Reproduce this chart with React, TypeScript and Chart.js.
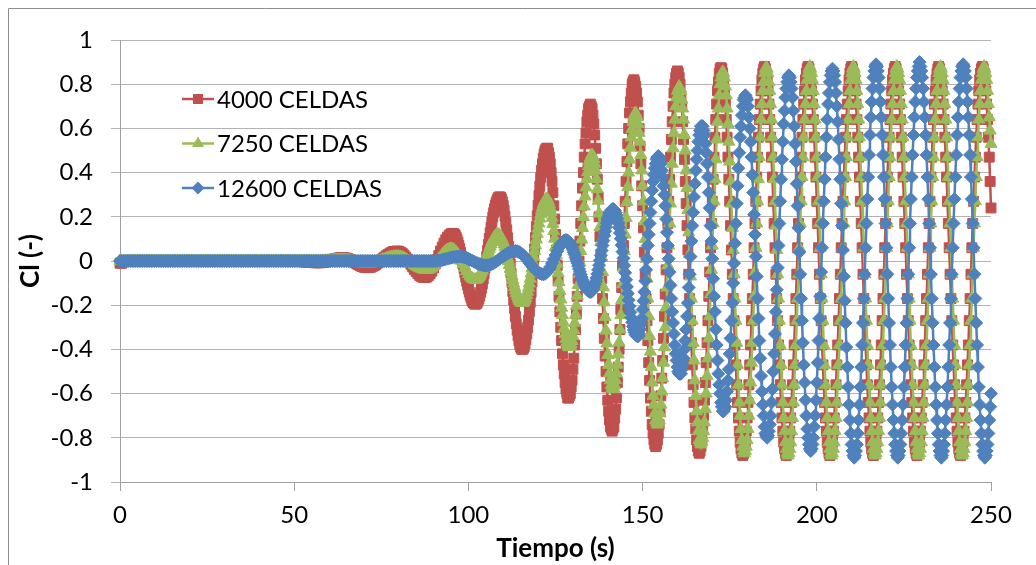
import React, { useEffect, useRef } from 'react';
import { Chart, registerables } from 'chart.js';

Chart.register(...registerables);

// ---------- data ----------
// Each series: part A sampled from SEG_A_START every SEG_A_STEP s,
// part B sampled from its own start (SEG_B_STARTS) every SEG_B_STEP s.
const SEG_A_START = 0;
const SEG_A_STEP = 0.5;
const SEG_B_STEP = 0.25;
const SEG_B_STARTS = [95.75, 102.25, 128.25];
const X_TICKS = [0, 50, 100, 150, 200, 250];
const Y_TICKS = [-1, -0.8, -0.6, -0.4, -0.2, 0, 0.2, 0.4, 0.6, 0.8, 1];
const SERIES_LABELS = ['4000 CELDAS', '7250 CELDAS', '12600 CELDAS'];
const SERIES_COLORS = ['#C0504D', '#9BBB59', '#4F81BD'];
const X_TITLE = 'Tiempo (s)';
const Y_TITLE = 'Cl (-)';

// 4000 cells, t = 0 .. 95.5 s
const CL_4000_A = [
  -0.01,-0.01,0,0,0, 0,0,0,0,0, 0,0,0,0,0, 0,0,0,0,0,
  0,0,0,0,0, 0,0,0,0,0, 0,0,0,0,0, 0,0,0,0,0,
  0,0,0,0,0, 0,0,0,0,0, 0,0,0,0,0, 0,0,0,0,0,
  0,0,0,0,0, 0,0,0,0,0, 0,0,0,0,0, 0,0,0,0,0,
  0,0,0,0,0, 0,0,0,0,0, 0,0,0,0,0, 0,0,0,0,0,
  0,0,-0.001,-0.001,-0.002,-0.003,-0.004,-0.005,-0.006,-0.006,-0.007,-0.007,-0.008,-0.008,-0.008,
  -0.008,-0.007,-0.006,-0.004,-0.002,0.001,0.004,0.006,0.009,0.011,0.013,0.014,0.015,0.015,
  0.014,0.013,0.01,0.007,0.002,-0.003,-0.008,-0.013,-0.017,-0.022,-0.025,-0.028,-0.029,-0.03,
  -0.029,-0.028,-0.024,-0.02,-0.015,-0.009,-0.003,0.004,0.011,0.018,0.024,0.03,0.035,0.039,0.043,0.044,0.045,
  0.044,0.04,0.035,0.027,0.018,0.008,-0.003,-0.015,-0.027,-0.038,-0.048,-0.057,-0.065,-0.07,-0.074,-0.075,
  -0.073,-0.067,-0.058,-0.046,-0.031,-0.013,0.006,0.025,0.045,0.063,0.081,0.096,0.108,0.117,0.123,0.125,
];
// 4000 cells, t = 95.75 .. 250 s
const CL_4000_B = [
  0.124,0.12,0.115,0.107,0.097,0.085,0.071,0.056,0.039,0.022,0.003,-0.016,-0.035,-0.054,-0.073,-0.092,-0.109,-0.126,-0.141,-0.155,-0.167,-0.177,-0.185,-0.19,-0.194,-0.195,
  -0.194,-0.189,-0.181,-0.171,-0.158,-0.142,-0.124,-0.104,-0.082,-0.058,-0.033,-0.007,0.02,0.048,0.075,0.102,0.128,0.153,0.177,0.199,0.219,0.237,0.253,0.266,0.276,0.284,0.289,0.29,
  0.288,0.28,0.268,0.251,0.229,0.203,0.174,0.141,0.105,0.067,0.028,-0.013,-0.055,-0.097,-0.138,-0.177,-0.215,-0.251,-0.284,-0.313,-0.339,-0.361,-0.378,-0.39,-0.398,-0.4,
  -0.397,-0.389,-0.375,-0.355,-0.33,-0.301,-0.267,-0.229,-0.187,-0.142,-0.095,-0.046,0.004,0.055,0.106,0.156,0.205,0.252,0.297,0.339,0.377,0.411,0.44,0.465,0.485,0.499,0.507,0.51,
  0.51,0.49,0.47,0.44,0.4,0.36,0.31,0.25,0.19,0.12,0.05,-0.02,-0.09,-0.16,-0.23,-0.3,-0.36,-0.42,-0.47,-0.51,-0.55,-0.58,-0.6,-0.62,-0.62,
  -0.61,-0.6,-0.57,-0.54,-0.49,-0.44,-0.38,-0.31,-0.24,-0.16,-0.08,0,0.09,0.17,0.25,0.33,0.4,0.47,0.53,0.58,0.63,0.66,0.69,0.7,0.71,
  0.7,0.69,0.66,0.62,0.57,0.51,0.44,0.37,0.29,0.2,0.11,0.02,-0.08,-0.17,-0.26,-0.35,-0.43,-0.5,-0.57,-0.63,-0.68,-0.72,-0.75,-0.76,-0.77,
  -0.76,-0.75,-0.71,-0.67,-0.62,-0.55,-0.48,-0.4,-0.31,-0.22,-0.12,-0.02,0.07,0.17,0.27,0.36,0.45,0.53,0.6,0.67,0.72,0.76,0.8,0.81,0.82,
  0.81,
  0.79,0.76,0.72,0.66,0.6,0.52,0.44,0.34,0.25,0.15,0.04,-0.06,-0.17,-0.27,-0.36,-0.46,-0.54,-0.62,-0.68,-0.74,-0.78,-0.81,-0.83,-0.84,
  -0.83,-0.81,-0.78,-0.74,-0.68,-0.61,-0.53,-0.45,-0.35,-0.25,-0.15,-0.04,0.06,0.17,0.27,0.37,0.47,0.55,0.63,0.7,0.76,0.8,0.83,0.85,0.86,
  0.85,0.83,0.8,0.75,0.7,0.63,0.55,0.46,0.36,0.26,0.16,0.05,-0.06,-0.17,-0.27,-0.37,-0.47,-0.56,-0.64,-0.71,-0.76,-0.81,-0.84,-0.86,-0.87,
  -0.86,-0.84,-0.81,-0.76,-0.7,-0.63,-0.55,-0.46,-0.37,-0.27,-0.16,-0.05,0.06,0.17,0.27,0.37,0.47,0.56,0.64,0.71,0.77,0.81,0.85,0.87,0.875,
  0.87,0.85,0.81,0.77,0.71,0.64,0.56,0.47,0.37,0.27,0.16,0.05,-0.06,-0.17,-0.27,-0.38,-0.47,-0.56,-0.64,-0.71,-0.77,-0.82,-0.85,-0.87,-0.88,
  // 179 .. 185
  -0.87,-0.85,-0.82,-0.77,-0.71,-0.64,-0.56,-0.47,-0.38,-0.27,-0.17,-0.06,0.06,0.17,0.27,0.38,0.47,0.56,0.64,0.71,0.77,0.82,0.85,0.87,0.88,
  // 185.25 .. 191.25
  0.87,0.85,0.82,0.77,0.71,0.64,0.56,0.47,0.38,0.27,0.17,0.06,-0.06,-0.17,-0.27,-0.38,-0.47,-0.56,-0.64,-0.71,-0.77,-0.82,-0.85,-0.87,-0.88,
  // 191.5 .. 197.5
  -0.87,-0.85,-0.82,-0.77,-0.71,-0.64,-0.56,-0.47,-0.38,-0.27,-0.17,-0.06,0.06,0.17,0.27,0.38,0.47,0.56,0.64,0.71,0.77,0.82,0.85,0.87,0.88,
  // 197.75 .. 203.75
  0.87,0.85,0.82,0.77,0.71,0.64,0.56,0.47,0.38,0.27,0.17,0.06,-0.06,-0.17,-0.27,-0.38,-0.47,-0.56,-0.64,-0.71,-0.77,-0.82,-0.85,-0.87,-0.88,
  // 204 .. 210
  -0.87,-0.85,-0.82,-0.77,-0.71,-0.64,-0.56,-0.47,-0.38,-0.27,-0.17,-0.06,0.06,0.17,0.27,0.38,0.47,0.56,0.64,0.71,0.77,0.82,0.85,0.87,0.88,
  // 210.25 .. 216.25
  0.87,0.85,0.82,0.77,0.71,0.64,0.56,0.47,0.38,0.27,0.17,0.06,-0.06,-0.17,-0.27,-0.38,-0.47,-0.56,-0.64,-0.71,-0.77,-0.82,-0.85,-0.87,-0.88,
  // 216.5 .. 222.5
  -0.87,-0.85,-0.82,-0.77,-0.71,-0.64,-0.56,-0.47,-0.38,-0.27,-0.17,-0.06,0.06,0.17,0.27,0.38,0.47,0.56,0.64,0.71,0.77,0.82,0.85,0.87,0.88,
  // 222.75 .. 228.75
  0.87,0.85,0.82,0.77,0.71,0.64,0.56,0.47,0.38,0.27,0.17,0.06,-0.06,-0.17,-0.27,-0.38,-0.47,-0.56,-0.64,-0.71,-0.77,-0.82,-0.85,-0.87,-0.88,
  // 229 .. 235
  -0.87,-0.85,-0.82,-0.77,-0.71,-0.64,-0.56,-0.47,-0.38,-0.27,-0.17,-0.06,0.06,0.17,0.27,0.38,0.47,0.56,0.64,0.71,0.77,0.82,0.85,0.87,0.88,
  // 235.25 .. 241.25
  0.87,0.85,0.82,0.77,0.71,0.64,0.56,0.47,0.38,0.27,0.17,0.06,-0.06,-0.17,-0.27,-0.38,-0.47,-0.56,-0.64,-0.71,-0.77,-0.82,-0.85,-0.87,-0.88,
  // 241.5 .. 247.5
  -0.87,-0.85,-0.82,-0.77,-0.71,-0.64,-0.56,-0.47,-0.38,-0.27,-0.17,-0.06,0.06,0.17,0.27,0.38,0.47,0.56,0.64,0.71,0.77,0.82,0.85,0.87,0.88,
  // 247.75 .. 250
  0.87,0.85,0.82,0.77,0.71,0.64,0.56,0.47,0.36,0.24,
];

// 7250 cells, t = 0 .. 102 s
const CL_7250_A = [
  0,0,0,0,0, 0,0,0,0,0, 0,0,0,0,0, 0,0,0,0,0,
  0,0,0,0,0, 0,0,0,0,0, 0,0,0,0,0, 0,0,0,0,0,
  0,0,0,0,0, 0,0,0,0,0, 0,0,0,0,0, 0,0,0,0,0,
  0,0,0,0,0, 0,0,0,0,0, 0,0,0,0,0, 0,0,0,0,0,
  0,0,0,0,0, 0,0,0,0,0, 0,0,0,0,0, 0,0,0,0,0,
  0,0,0,0,0, 0,0,0,0,0, 0,0,0,0,0,
  0,0,0,0.001,0.001,0.002,0.002,0.003,0.003,0.004,0.004,0.005,0.005,0.005,
  0.005,0.004,0.003,0.002,0,-0.002,-0.004,-0.005,-0.007,-0.009,-0.01,-0.011,-0.012,-0.012,
  -0.012,-0.011,-0.01,-0.008,-0.006,-0.003,0,0.003,0.006,0.008,0.011,0.014,0.016,0.018,0.019,0.02,0.02,
  0.02,0.018,0.016,0.012,0.008,0.003,-0.002,-0.007,-0.013,-0.018,-0.023,-0.028,-0.032,-0.036,-0.038,-0.04,-0.04,
  -0.039,-0.035,-0.03,-0.022,-0.013,-0.003,0.008,0.018,0.028,0.037,0.045,0.05,0.054,0.055,
  0.053,0.048,0.04,0.029,0.015,0.001,-0.015,-0.031,-0.045,-0.059,-0.07,-0.078,-0.083,-0.085,
];
// 7250 cells, t = 102.25 .. 250 s
const CL_7250_B = [
  -0.084,-0.082,-0.078,-0.073,-0.067,-0.059,-0.05,-0.041,-0.03,-0.019,-0.007,0.005,0.018,0.03,0.042,0.054,0.065,0.076,0.086,0.094,0.102,0.108,0.113,0.117,0.119,0.12,
  0.119,0.116,0.111,0.105,0.096,0.086,0.075,0.062,0.048,0.032,0.016,0,-0.018,-0.035,-0.052,-0.07,-0.086,-0.102,-0.118,-0.132,-0.145,-0.156,-0.166,-0.175,-0.181,-0.186,-0.189,-0.19,
  -0.189,-0.184,-0.177,-0.167,-0.154,-0.139,-0.121,-0.102,-0.08,-0.057,-0.033,-0.007,0.019,0.045,0.071,0.097,0.123,0.147,0.17,0.192,0.211,0.229,0.244,0.257,0.267,0.274,0.279,0.28,
  0.278,0.27,0.258,0.242,0.221,0.196,0.167,0.135,0.101,0.064,0.025,-0.015,-0.055,-0.095,-0.135,-0.174,-0.211,-0.245,-0.277,-0.306,-0.331,-0.352,-0.368,-0.38,-0.388,-0.39,
  -0.387,-0.377,-0.362,-0.34,-0.313,-0.281,-0.243,-0.202,-0.157,-0.109,-0.059,-0.007,0.045,0.097,0.149,0.199,0.247,0.292,0.333,0.371,0.403,0.43,0.452,0.467,0.477,0.48,
  0.475,0.462,0.44,0.409,0.371,0.325,0.273,0.215,0.153,0.087,0.019,-0.05,-0.119,-0.187,-0.253,-0.315,-0.373,-0.425,-0.47,-0.509,-0.54,-0.562,-0.575,-0.58,
  -0.575,-0.562,-0.539,-0.508,-0.469,-0.423,-0.369,-0.31,-0.245,-0.177,-0.105,-0.03,0.045,0.12,0.195,0.267,0.335,0.4,0.459,0.513,0.559,0.598,0.629,0.652,0.665,
  0.67,
  0.66,0.65,0.62,0.58,0.54,0.48,0.41,0.34,0.27,0.18,0.1,0.01,-0.08,-0.17,-0.25,-0.34,-0.41,-0.48,-0.55,-0.61,-0.65,-0.69,-0.72,-0.73,-0.74,
  -0.73,-0.72,-0.69,-0.65,-0.59,-0.53,-0.46,-0.39,-0.3,-0.21,-0.12,-0.02,0.07,0.17,0.26,0.35,0.44,0.51,0.58,0.64,0.7,0.74,0.77,0.78,0.79,
  0.78,0.77,0.73,0.69,0.64,0.57,0.5,0.41,0.33,0.23,0.13,0.03,-0.07,-0.17,-0.27,-0.37,-0.45,-0.54,-0.61,-0.68,-0.73,-0.77,-0.81,-0.82,-0.83,
  -0.82,-0.8,-0.77,-0.73,-0.67,-0.6,-0.52,-0.44,-0.35,-0.25,-0.15,-0.04,0.07,0.17,0.27,0.37,0.46,0.55,0.63,0.69,0.75,0.8,0.83,0.85,0.855,
  0.85,0.83,0.79,0.75,0.69,0.62,0.54,0.45,0.36,0.26,0.15,0.05,-0.06,-0.17,-0.27,-0.37,-0.47,-0.56,-0.64,-0.7,-0.76,-0.81,-0.84,-0.86,-0.87,
  -0.86,-0.84,-0.81,-0.76,-0.7,-0.63,-0.55,-0.46,-0.37,-0.27,-0.16,-0.05,0.06,0.17,0.27,0.37,0.47,0.56,0.64,0.71,0.77,0.81,0.85,0.87,0.875,
  0.87,0.85,0.81,0.77,0.71,0.64,0.56,0.47,0.37,0.27,0.16,0.05,-0.06,-0.17,-0.27,-0.38,-0.47,-0.56,-0.64,-0.71,-0.77,-0.82,-0.85,-0.87,-0.88,
  // 192 .. 198
  -0.87,-0.85,-0.82,-0.77,-0.71,-0.64,-0.56,-0.47,-0.38,-0.27,-0.17,-0.06,0.06,0.17,0.27,0.38,0.47,0.56,0.64,0.71,0.77,0.82,0.85,0.87,0.88,
  // 198.25 .. 204.25
  0.87,0.85,0.82,0.77,0.71,0.64,0.56,0.47,0.38,0.27,0.17,0.06,-0.06,-0.17,-0.27,-0.38,-0.47,-0.56,-0.64,-0.71,-0.77,-0.82,-0.85,-0.87,-0.88,
  // 204.5 .. 210.5
  -0.87,-0.85,-0.82,-0.77,-0.71,-0.64,-0.56,-0.47,-0.38,-0.27,-0.17,-0.06,0.06,0.17,0.27,0.38,0.47,0.56,0.64,0.71,0.77,0.82,0.85,0.87,0.88,
  // 210.75 .. 216.75
  0.87,0.85,0.82,0.77,0.71,0.64,0.56,0.47,0.38,0.27,0.17,0.06,-0.06,-0.17,-0.27,-0.38,-0.47,-0.56,-0.64,-0.71,-0.77,-0.82,-0.85,-0.87,-0.88,
  // 217 .. 223
  -0.87,-0.85,-0.82,-0.77,-0.71,-0.64,-0.56,-0.47,-0.38,-0.27,-0.17,-0.06,0.06,0.17,0.27,0.38,0.47,0.56,0.64,0.71,0.77,0.82,0.85,0.87,0.88,
  // 223.25 .. 229.25
  0.87,0.85,0.82,0.77,0.71,0.64,0.56,0.47,0.38,0.27,0.17,0.06,-0.06,-0.17,-0.27,-0.38,-0.47,-0.56,-0.64,-0.71,-0.77,-0.82,-0.85,-0.87,-0.88,
  // 229.5 .. 235.5
  -0.87,-0.85,-0.82,-0.77,-0.71,-0.64,-0.56,-0.47,-0.38,-0.27,-0.17,-0.06,0.06,0.17,0.27,0.38,0.47,0.56,0.64,0.71,0.77,0.82,0.85,0.87,0.88,
  // 235.75 .. 241.75
  0.87,0.85,0.82,0.77,0.71,0.64,0.56,0.47,0.38,0.27,0.17,0.06,-0.06,-0.17,-0.27,-0.38,-0.47,-0.56,-0.64,-0.71,-0.77,-0.82,-0.85,-0.87,-0.88,
  // 242 .. 248
  -0.87,-0.85,-0.82,-0.77,-0.71,-0.64,-0.56,-0.47,-0.38,-0.27,-0.17,-0.06,0.06,0.17,0.27,0.38,0.47,0.56,0.64,0.71,0.77,0.82,0.85,0.87,0.88,
  // 248.25 .. 250
  0.87,0.85,0.82,0.77,0.71,0.65,0.59,0.53,
];

// 12600 cells, t = 0 .. 128 s
const CL_12600_A = [
  0,0,0,0,0, 0,0,0,0,0, 0,0,0,0,0, 0,0,0,0,0,
  0,0,0,0,0, 0,0,0,0,0, 0,0,0,0,0, 0,0,0,0,0,
  0,0,0,0,0, 0,0,0,0,0, 0,0,0,0,0, 0,0,0,0,0,
  0,0,0,0,0, 0,0,0,0,0, 0,0,0,0,0, 0,0,0,0,0,
  0,0,0,0,0, 0,0,0,0,0, 0,0,0,0,0, 0,0,0,0,0,
  0,0,0,0,0, 0,0,0,0,0, 0,0,0,0,0, 0,0,0,0,0,
  0,0,0,0,0, 0,0,0,0,0, 0,0,0,0,0, 0,0,0,0,0,
  0,0,0,0,0, 0,0,0,0,0, 0,0,0,0,0, 0,0,0,0,0,
  0,0,0,0,0, 0,0,0,0,0, 0,0,0,0,0, 0,0,0,0,0,
  0,
  0,0.001,0.002,0.003,0.005,0.007,0.009,0.011,0.013,0.015,0.017,0.018,0.019,0.02,0.02,
  0.02,0.018,0.016,0.013,0.01,0.006,0.002,-0.002,-0.006,-0.01,-0.013,-0.016,-0.018,-0.02,-0.02,
  -0.019,-0.018,-0.015,-0.012,-0.007,-0.002,0.004,0.01,0.016,0.021,0.027,0.032,0.037,0.04,0.043,0.044,0.045,
  0.044,0.041,0.036,0.03,0.022,0.013,0.003,-0.008,-0.018,-0.028,-0.037,-0.045,-0.051,-0.056,-0.059,-0.06,
  -0.058,-0.051,-0.041,-0.027,-0.01,0.008,0.027,0.045,0.061,0.076,0.086,0.093,0.095,
];
// 12600 cells, t = 128.25 .. 250 s
const CL_12600_B = [
  0.094,0.092,0.088,0.083,0.077,0.069,0.061,0.051,0.04,0.029,0.016,0.004,-0.009,-0.023,-0.036,-0.049,-0.061,-0.073,-0.085,-0.096,-0.106,-0.114,-0.122,-0.128,-0.133,-0.137,-0.139,-0.14,
  -0.139,-0.135,-0.128,-0.119,-0.107,-0.093,-0.077,-0.059,-0.04,-0.019,0.003,0.025,0.048,0.07,0.092,0.114,0.135,0.154,0.172,0.188,0.202,0.213,0.223,0.23,0.234,0.235,
  0.233,0.228,0.219,0.207,0.191,0.172,0.151,0.127,0.101,0.072,0.042,0.012,-0.02,-0.053,-0.085,-0.117,-0.147,-0.177,-0.205,-0.232,-0.256,-0.277,-0.296,-0.312,-0.324,
  -0.333,-0.338,-0.34,
  -0.34,-0.33,-0.31,-0.29,-0.26,-0.22,-0.18,-0.14,-0.09,-0.04,0.01,0.07,0.12,0.17,0.22,0.27,0.32,0.36,0.39,0.42,0.44,0.46,0.47,0.475,
  0.47,0.46,0.44,0.41,0.38,0.34,0.3,0.25,0.19,0.13,0.07,0.01,-0.05,-0.11,-0.17,-0.23,-0.28,-0.33,-0.38,-0.42,-0.45,-0.48,-0.5,-0.51,-0.51,
  -0.51,-0.49,-0.47,-0.44,-0.4,-0.36,-0.31,-0.25,-0.19,-0.12,-0.06,0.02,0.09,0.16,0.22,0.29,0.35,0.41,0.46,0.5,0.54,0.57,0.59,0.61,0.61,
  0.61,0.59,0.57,0.53,0.49,0.44,0.38,0.31,0.24,0.16,0.09,0.01,-0.08,-0.16,-0.23,-0.31,-0.38,-0.45,-0.51,-0.56,-0.6,-0.64,-0.66,-0.68,-0.68,
  -0.67,-0.66,-0.63,-0.59,-0.54,-0.49,-0.42,-0.35,-0.27,-0.19,-0.1,-0.01,0.08,0.17,0.26,0.34,0.42,0.49,0.56,0.61,0.66,0.7,0.73,0.74,0.75,
  0.74,0.73,0.7,0.65,0.6,0.54,0.47,0.39,0.31,0.21,0.12,0.02,-0.07,-0.17,-0.26,-0.36,-0.44,-0.52,-0.59,-0.65,-0.7,-0.75,-0.78,-0.79,-0.8,
  -0.79,-0.77,-0.74,-0.7,-0.64,-0.58,-0.5,-0.42,-0.33,-0.23,-0.13,-0.03,0.07,0.17,0.27,0.37,0.46,0.54,0.62,0.68,0.74,0.78,0.81,0.83,0.84,
  0.83,0.81,0.78,0.74,0.68,0.61,0.53,0.45,0.35,0.25,0.15,0.04,-0.06,-0.17,-0.27,-0.37,-0.47,-0.55,-0.63,-0.7,-0.76,-0.8,-0.83,-0.85,-0.86,
  -0.85,-0.83,-0.8,-0.75,-0.7,-0.63,-0.55,-0.46,-0.36,-0.26,-0.16,-0.05,0.06,0.17,0.27,0.37,0.47,0.56,0.64,0.71,0.76,0.81,0.84,0.86,0.87,
  0.86,0.84,0.81,0.76,0.7,0.63,0.55,0.46,0.37,0.26,0.16,0.05,-0.07,-0.18,-0.28,-0.39,-0.48,-0.57,-0.65,-0.72,-0.78,-0.83,-0.86,-0.88,-0.89,
  // 211 .. 217
  -0.88,-0.86,-0.83,-0.78,-0.72,-0.65,-0.57,-0.48,-0.38,-0.28,-0.17,-0.06,0.06,0.17,0.28,0.38,0.48,0.57,0.65,0.72,0.78,0.83,0.86,0.88,0.89,
  // 217.25 .. 223.25
  0.88,0.86,0.83,0.78,0.72,0.65,0.57,0.48,0.38,0.28,0.17,0.06,-0.06,-0.17,-0.28,-0.38,-0.48,-0.57,-0.65,-0.72,-0.78,-0.83,-0.86,-0.88,-0.89,
  // 223.5 .. 229.5
  -0.88,-0.86,-0.83,-0.78,-0.72,-0.65,-0.57,-0.48,-0.38,-0.28,-0.17,-0.06,0.06,0.17,0.28,0.38,0.48,0.57,0.65,0.72,0.78,0.83,0.86,0.88,0.9,
  // 229.75 .. 235.75
  0.88,0.86,0.83,0.78,0.72,0.65,0.57,0.48,0.38,0.28,0.17,0.06,-0.06,-0.17,-0.28,-0.38,-0.48,-0.57,-0.65,-0.72,-0.78,-0.83,-0.86,-0.88,-0.89,
  // 236 .. 242
  -0.88,-0.86,-0.83,-0.78,-0.72,-0.65,-0.57,-0.48,-0.38,-0.28,-0.17,-0.06,0.06,0.17,0.28,0.38,0.48,0.57,0.65,0.72,0.78,0.83,0.86,0.88,0.89,
  // 242.25 .. 248.25
  0.88,0.86,0.83,0.78,0.72,0.65,0.57,0.48,0.38,0.28,0.17,0.06,-0.06,-0.17,-0.28,-0.38,-0.48,-0.57,-0.65,-0.72,-0.78,-0.83,-0.86,-0.88,-0.89,
  // 248.5 .. 250
  -0.88,-0.86,-0.83,-0.78,-0.72,-0.66,-0.6,
];

const SERIES_PARTS = [
  [CL_4000_A, CL_4000_B],
  [CL_7250_A, CL_7250_B],
  [CL_12600_A, CL_12600_B],
];

// ---------- styles ----------
const FONT = 'Lato, "Open Sans", sans-serif';
const POINT_STYLES = ['rect', 'triangle', 'rectRot'];
const POINT_RADII = [7, 7, 6.5];
const GRID_COLOR = '#B3B3B3';
const AXIS_COLOR = '#A0A0A0';

function toPoints(partA: number[], partB: number[], startB: number) {
  const a = partA.map((y, i) => ({ x: SEG_A_START + i * SEG_A_STEP, y }));
  const b = partB.map((y, i) => ({ x: startB + i * SEG_B_STEP, y }));
  return a.concat(b);
}

function drawMarker(ctx: CanvasRenderingContext2D, k: number, x: number, y: number) {
  ctx.fillStyle = SERIES_COLORS[k];
  ctx.beginPath();
  if (k === 0) {
    ctx.rect(x - 5, y - 5, 10, 10);
  } else if (k === 1) {
    ctx.moveTo(x, y - 7);
    ctx.lineTo(x + 6.1, y + 3.5);
    ctx.lineTo(x - 6.1, y + 3.5);
    ctx.closePath();
  } else {
    ctx.moveTo(x, y - 6.5);
    ctx.lineTo(x + 6.5, y);
    ctx.lineTo(x, y + 6.5);
    ctx.lineTo(x - 6.5, y);
    ctx.closePath();
  }
  ctx.fill();
}

const decorPlugin = {
  id: 'decor',
  beforeDraw(chart: any) {
    const ctx: CanvasRenderingContext2D = chart.ctx;
    ctx.save();
    ctx.fillStyle = '#FFFFFF';
    ctx.fillRect(0, 0, chart.width, chart.height);
    ctx.strokeStyle = '#8E8E8E';
    ctx.lineWidth = 1;
    ctx.beginPath();
    ctx.moveTo(8.5, chart.height);
    ctx.lineTo(8.5, 8.5);
    ctx.lineTo(chart.width, 8.5);
    ctx.stroke();
    ctx.restore();
  },
  afterDraw(chart: any) {
    const ctx: CanvasRenderingContext2D = chart.ctx;
    const area = chart.chartArea;
    ctx.save();
    const rowY = [99, 143.5, 188];
    SERIES_LABELS.forEach((label, k) => {
      const y = rowY[k];
      ctx.strokeStyle = SERIES_COLORS[k];
      ctx.lineWidth = 2.5;
      ctx.beginPath();
      ctx.moveTo(182, y);
      ctx.lineTo(214, y);
      ctx.stroke();
      drawMarker(ctx, k, 198, y);
      ctx.fillStyle = '#000000';
      ctx.font = `24px ${FONT}`;
      ctx.textAlign = 'left';
      ctx.textBaseline = 'middle';
      ctx.fillText(label, 217, y + 1);
    });
    ctx.fillStyle = '#000000';
    ctx.font = `bold 26px ${FONT}`;
    ctx.textAlign = 'center';
    ctx.textBaseline = 'middle';
    ctx.fillText(X_TITLE, (area.left + area.right) / 2, 549);
    ctx.translate(31, 261);
    ctx.rotate(-Math.PI / 2);
    ctx.fillText(Y_TITLE, 0, 0);
    ctx.restore();
  },
};

export default function App() {
  const canvasRef = useRef<HTMLCanvasElement | null>(null);

  useEffect(() => {
    const canvas = canvasRef.current;
    if (!canvas) return;
    const datasets = SERIES_PARTS.map(([partA, partB], k) => ({
      label: SERIES_LABELS[k],
      data: toPoints(partA, partB, SEG_B_STARTS[k]),
      borderColor: SERIES_COLORS[k],
      backgroundColor: SERIES_COLORS[k],
      borderWidth: 2.5,
      pointStyle: POINT_STYLES[k],
      pointRadius: POINT_RADII[k],
      pointBackgroundColor: SERIES_COLORS[k],
      pointBorderColor: SERIES_COLORS[k],
      pointBorderWidth: 1,
      pointHoverRadius: POINT_RADII[k],
      tension: 0,
      clip: false,
      order: 3 - k,
    }));

    const chart = new Chart(canvas, {
      type: 'line',
      data: { datasets } as any,
      plugins: [decorPlugin],
      options: {
        animation: false,
        responsive: false,
        events: [],
        layout: { padding: { left: 0, right: 45, top: 40, bottom: 0 } },
        plugins: { legend: { display: false }, tooltip: { enabled: false } },
        scales: {
          x: {
            type: 'linear',
            min: X_TICKS[0],
            max: X_TICKS[X_TICKS.length - 1],
            afterBuildTicks: (scale: any) => {
              scale.ticks = X_TICKS.map((v) => ({ value: v }));
            },
            afterFit: (scale: any) => {
              scale.height = 83;
            },
            grid: { drawOnChartArea: false, drawTicks: true, tickLength: 9, color: AXIS_COLOR },
            border: { color: AXIS_COLOR, width: 1 },
            ticks: {
              color: '#000000',
              font: { family: FONT, size: 24 },
              padding: 10,
              maxRotation: 0,
              callback: (v: any) => String(v),
            },
          },
          y: {
            type: 'linear',
            min: Y_TICKS[0],
            max: Y_TICKS[Y_TICKS.length - 1],
            afterBuildTicks: (scale: any) => {
              scale.ticks = Y_TICKS.map((v) => ({ value: v }));
            },
            afterFit: (scale: any) => {
              scale.width = 120;
            },
            grid: { color: GRID_COLOR, tickLength: 9, lineWidth: 1 },
            border: { color: AXIS_COLOR, width: 1 },
            ticks: {
              color: '#000000',
              font: { family: FONT, size: 24 },
              padding: 18,
              callback: (v: any) => String(Number(Number(v).toFixed(1))),
            },
          },
        },
      } as any,
    });
    return () => chart.destroy();
  }, []);

  return (
    <div style={{ position: 'absolute', left: 0, top: 0, width: 1036, height: 565, overflow: 'hidden', background: '#fff' }}>
      <canvas ref={canvasRef} width={1036} height={565} style={{ display: 'block' }} />
    </div>
  );
}
